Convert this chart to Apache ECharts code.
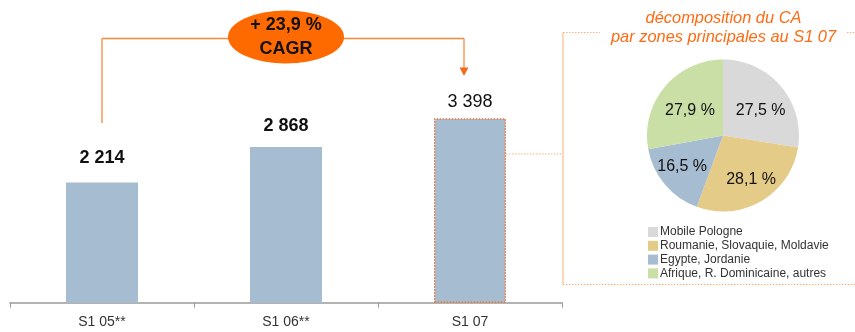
<!DOCTYPE html>
<html>
<head>
<meta charset="utf-8">
<script src="https://cdn.jsdelivr.net/npm/echarts@6/dist/echarts.min.js"></script>
<style>
html,body{margin:0;padding:0;background:#fff;}
#chart{width:855px;height:332px;}
</style>
</head>
<body>
<div id="chart"></div>
<script>
// ---- data ----
var categories = ['S1 05**', 'S1 06**', 'S1 07'];
var revenue = [2214, 2868, 3398];
var zoneNames = ['Mobile Pologne', 'Roumanie, Slovaquie, Moldavie', 'Egypte, Jordanie', 'Afrique, R. Dominicaine, autres'];
var zoneShares = [27.5, 28.1, 16.5, 27.9];
var cagrLines = ['+ 23,9 %', 'CAGR'];
var pieTitleLines = ['décomposition du CA', 'par zones principales au S1 07'];

// ---- styles ----
var zoneColors = ['#D9D9D9', '#E4CC88', '#A6BCD1', '#C9DFA6'];
var pieLabelOffsets = [[0, 7], [3, 1], [-3, -1], [5, 7]];
var barLabelWeights = ['bold', 'bold', 'normal'];
var barLabelDistances = [15, 12, 7];
var FONT = '"Liberation Sans", Arial, Helvetica, sans-serif';
var ORANGE = '#FF6A00';
var LINE_ORANGE = '#F58A3C';
var LIGHT_ORANGE = '#FBB07A';

function fmtThousands(v) { return String(v).replace(/\B(?=(\d{3})+(?!\d))/g, ' '); }
function fmtPct(v) { return v.toFixed(1).replace('.', ',') + ' %'; }

var chart = echarts.init(document.getElementById('chart'), null, {renderer: 'canvas'});

var barData = revenue.map(function (v, i) {
  var item = {
    value: v,
    label: {
      show: true,
      position: 'top',
      distance: barLabelDistances[i],
      fontWeight: barLabelWeights[i],
      fontSize: 18,
      color: '#111',
      fontFamily: FONT,
      formatter: function (p) { return fmtThousands(p.value); }
    }
  };
  if (i === revenue.length - 1) {
    item.itemStyle = {borderColor: '#F26B1D', borderWidth: 1.3, borderType: [1.5, 1.5]};
  }
  return item;
});

var pieData = zoneNames.map(function (n, i) {
  return {name: n, value: zoneShares[i], itemStyle: {color: zoneColors[i]}};
});

chart.setOption({
  animation: false,
  textStyle: {fontFamily: FONT},
  grid: {left: 10, right: 293, top: 31.3, bottom: 29.3, containLabel: false},
  xAxis: {
    type: 'category',
    data: categories,
    boundaryGap: true,
    axisLine: {lineStyle: {color: '#9A9A9A', width: 1.5}},
    axisTick: {show: true, length: 5, lineStyle: {color: '#9A9A9A', width: 1}},
    axisLabel: {color: '#333', fontSize: 14, margin: 12, fontFamily: FONT}
  },
  yAxis: {type: 'value', min: 0, max: 5000, show: false, splitLine: {show: false}},
  legend: {
    orient: 'vertical',
    left: 643,
    top: 221,
    itemWidth: 10,
    itemHeight: 10,
    itemGap: 1.8,
    icon: 'rect',
    data: zoneNames,
    selectedMode: false,
    textStyle: {fontSize: 12, color: '#333', fontFamily: FONT, lineHeight: 12, padding: [0, 0, 0, -3]}
  },
  series: [
    {
      type: 'bar',
      data: barData,
      barWidth: 72,
      itemStyle: {color: '#A6BCD1'},
      z: 2
    },
    {
      type: 'pie',
      center: [723, 135.5],
      radius: [0, 76],
      startAngle: 90,
      clockwise: true,
      data: pieData,
      label: {show: false},
      labelLine: {show: false},
      silent: true
    },
    {
      type: 'pie',
      center: [723, 135.5],
      radius: [0, 93],
      startAngle: 90,
      clockwise: true,
      data: zoneNames.map(function (n, i) {
        return {name: n, value: zoneShares[i], label: {offset: pieLabelOffsets[i]}};
      }),
      itemStyle: {color: 'rgba(0,0,0,0)'},
      label: {
        show: true,
        position: 'inside',
        fontSize: 16,
        color: '#111',
        fontFamily: FONT,
        formatter: function (p) { return fmtPct(p.value); }
      },
      labelLine: {show: false},
      silent: true,
      z: 5
    }
  ]
});

// ---- annotations positioned from the chart's own scales ----
var x1 = chart.convertToPixel({xAxisIndex: 0}, categories[0]);
var x2 = chart.convertToPixel({xAxisIndex: 0}, categories[1]);
var x3 = chart.convertToPixel({xAxisIndex: 0}, categories[2]);
var halfBar = 36;
var boxLeft = 563;
var boxTop = 32.5;
var boxBottom = 284.5;
var arrowX = x3 - 6;
var lineY = 38.5;

chart.setOption({
  graphic: [
    {type: 'line', shape: {x1: x1, y1: lineY, x2: arrowX, y2: lineY}, style: {stroke: LINE_ORANGE, lineWidth: 1.3}, z: 10},
    {type: 'line', shape: {x1: x1, y1: lineY, x2: x1, y2: 123}, style: {stroke: LINE_ORANGE, lineWidth: 1.3}, z: 10},
    {type: 'line', shape: {x1: arrowX, y1: lineY, x2: arrowX, y2: 69}, style: {stroke: LINE_ORANGE, lineWidth: 1.3}, z: 10},
    {type: 'polygon', shape: {points: [[arrowX - 4.5, 67.5], [arrowX + 4.5, 67.5], [arrowX, 76]]}, style: {fill: '#F26B1D'}, z: 10},
    {type: 'circle', x: x2, y: 37, scaleX: 58 / 26.5, scaleY: 1, shape: {cx: 0, cy: 0, r: 26.5}, style: {fill: ORANGE}, z: 11},
    {type: 'text', x: x2, y: 25.5, style: {text: cagrLines[0], fill: '#111', font: 'bold 18px ' + FONT, textAlign: 'center', textVerticalAlign: 'middle'}, z: 12},
    {type: 'text', x: x2, y: 49.5, style: {text: cagrLines[1], fill: '#111', font: 'bold 18px ' + FONT, textAlign: 'center', textVerticalAlign: 'middle'}, z: 12},
    {type: 'line', shape: {x1: x3 + halfBar, y1: 154, x2: boxLeft, y2: 154}, style: {stroke: LIGHT_ORANGE, lineWidth: 1, lineDash: [1.5, 1.5]}, z: 10},
    {type: 'line', shape: {x1: boxLeft, y1: boxTop, x2: boxLeft, y2: boxBottom}, style: {stroke: LIGHT_ORANGE, lineWidth: 1}, z: 10},
    {type: 'line', shape: {x1: boxLeft, y1: boxTop, x2: 600, y2: boxTop}, style: {stroke: LIGHT_ORANGE, lineWidth: 1, lineDash: [1.5, 1.5]}, z: 10},
    {type: 'line', shape: {x1: 847, y1: boxTop, x2: 855, y2: boxTop}, style: {stroke: LIGHT_ORANGE, lineWidth: 1, lineDash: [1.5, 1.5]}, z: 10},
    {type: 'line', shape: {x1: boxLeft, y1: boxBottom, x2: 855, y2: boxBottom}, style: {stroke: LIGHT_ORANGE, lineWidth: 1, lineDash: [1.5, 1.5]}, z: 10},
    {type: 'text', x: 723.5, y: 18.5, style: {text: pieTitleLines[0], fill: '#FF6A13', font: 'italic 16.4px ' + FONT, textAlign: 'center', textVerticalAlign: 'middle'}, z: 12},
    {type: 'text', x: 723.5, y: 37, style: {text: pieTitleLines[1], fill: '#FF6A13', font: 'italic 16.4px ' + FONT, textAlign: 'center', textVerticalAlign: 'middle'}, z: 12}
  ]
});
</script>
</body>
</html>
